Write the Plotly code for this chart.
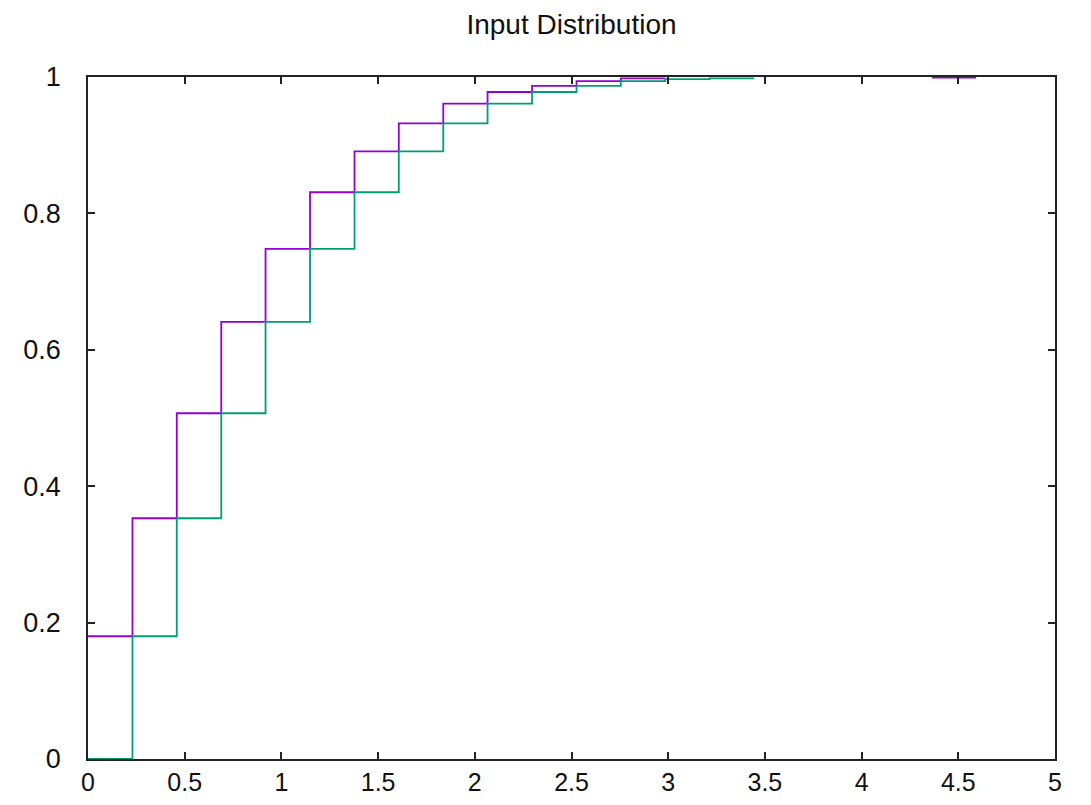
import plotly.graph_objects as go

# Bin edges (x axis)
edges = [0, 0.23, 0.459, 0.689, 0.918, 1.148, 1.378, 1.607, 1.837, 2.066,
         2.296, 2.526, 2.755, 2.985, 3.214, 3.444]

# Series 1 (purple) cumulative values per bin
purple_vals = [0.18, 0.353, 0.507, 0.641, 0.748, 0.831, 0.891, 0.932, 0.961,
               0.978, 0.987, 0.994, 0.998]
# isolated purple segment at the top right
purple_tail_x = [4.363, 4.592]
purple_tail_y = [0.999, 0.999]

# Series 2 (green) cumulative values per bin
green_vals = [0.0, 0.18, 0.353, 0.507, 0.641, 0.748, 0.831, 0.891, 0.932,
              0.961, 0.978, 0.987, 0.994, 0.997, 0.998]

x_ticks = [0, 0.5, 1, 1.5, 2, 2.5, 3, 3.5, 4, 4.5, 5]
x_tick_text = ["0", "0.5", "1", "1.5", "2", "2.5", "3", "3.5", "4", "4.5", "5"]
y_ticks = [0, 0.2, 0.4, 0.6, 0.8, 1]
y_tick_text = ["0", "0.2", "0.4", "0.6", "0.8", "1"]

PURPLE = "#9400d3"
GREEN = "#009e73"

n_p = len(purple_vals)
px = edges[:n_p + 1] + [None] + purple_tail_x
py = purple_vals + [purple_vals[-1]] + [None] + purple_tail_y

n_g = len(green_vals)
gx = edges[:n_g + 1]
gy = green_vals + [green_vals[-1]]

fig = go.Figure()
fig.add_trace(go.Scatter(x=px, y=py, mode="lines", line_shape="hv",
                         line=dict(color=PURPLE, width=1.8),
                         connectgaps=False, showlegend=False))
fig.add_trace(go.Scatter(x=gx, y=gy, mode="lines", line_shape="hv",
                         line=dict(color=GREEN, width=1.8),
                         showlegend=False))

fig.update_layout(
    width=1091, height=805,
    margin=dict(l=80, r=44, t=69, b=54),
    paper_bgcolor="white", plot_bgcolor="white",
    title=dict(text="Input Distribution", x=(80 + 1047) / 2 / 1091,
               xanchor="center", y=1 - 16 / 805, yanchor="middle",
               yref="container",
               font=dict(family="Liberation Sans, Arial",
                         size=28, color="#111")),
    xaxis=dict(range=[0, 5], tickvals=x_ticks, ticktext=x_tick_text,
               showgrid=False, zeroline=False, showline=True,
               linecolor="#222", linewidth=1.5, mirror="ticks",
               ticks="inside", ticklen=7, tickcolor="#222", tickwidth=1.5,
               tickfont=dict(family="Liberation Sans, Arial",
                             size=25, color="#111")),
    yaxis=dict(range=[0, 1], tickvals=y_ticks, ticktext=y_tick_text,
               showgrid=False, zeroline=False, showline=True,
               linecolor="#222", linewidth=1.5, mirror="ticks",
               ticks="inside", ticklen=7, tickcolor="#222", tickwidth=1.5,
               ticklabelstandoff=20,
               tickfont=dict(family="Liberation Sans, Arial", size=27,
                             color="#111")),
)

fig.write_html("out.html")
